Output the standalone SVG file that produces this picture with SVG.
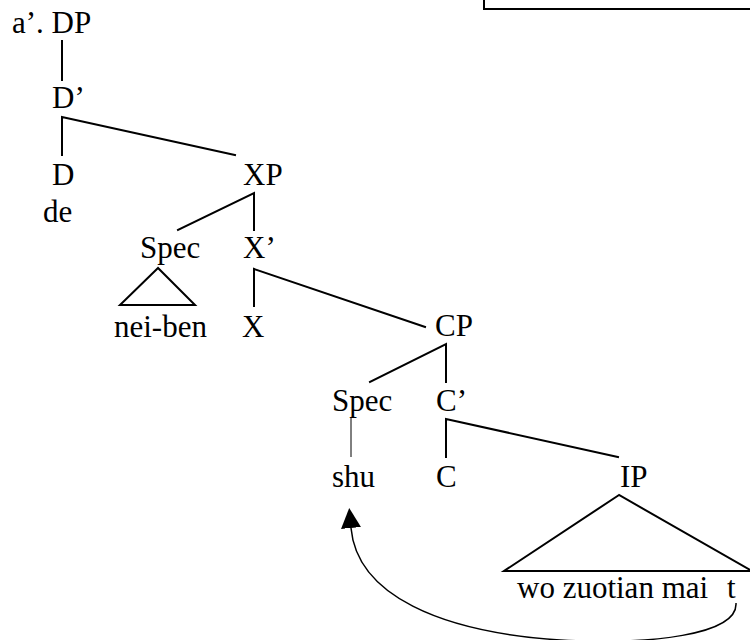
<svg xmlns="http://www.w3.org/2000/svg" width="750" height="640" viewBox="0 0 750 640">
<defs>
<style>
.e{stroke:#000;stroke-width:2;fill:none;stroke-linecap:square}
.thin{stroke:#000;stroke-width:1;fill:none}
.mv{stroke:#000;stroke-width:1.5;fill:none}
</style>
<marker id="ah" markerUnits="userSpaceOnUse" markerWidth="20" markerHeight="20" refX="0" refY="10" orient="auto" viewBox="0 0 20 20">
<path d="M0,0 L20,10 L0,20 z" fill="#000"/>
</marker>
</defs>
<rect width="750" height="640" fill="#fff"/>
<rect x="484" y="-10" width="280" height="19" fill="#fff" stroke="#000" stroke-width="2"/>
<g font-family="Liberation Serif, Times New Roman, DejaVu Serif, serif" font-size="31" fill="#000">
<g id="n-dp"><text x="12" y="33">a’. DP</text></g>
<g id="n-dbar"><text x="52" y="108">D’</text></g>
<g id="n-d"><text x="52" y="185">D</text><text x="43" y="222">de</text></g>
<g id="n-xp"><text x="243" y="185">XP</text></g>
<g id="n-spec1"><text x="140" y="258">Spec</text><text x="114" y="337">nei-ben</text></g>
<g id="n-xbar"><text x="243" y="258">X’</text></g>
<g id="n-x"><text x="242" y="337">X</text></g>
<g id="n-cp"><text x="435" y="336">CP</text></g>
<g id="n-spec2"><text x="332" y="411">Spec</text></g>
<g id="n-cbar"><text x="436" y="411">C’</text></g>
<g id="n-shu"><text x="332" y="487">shu</text></g>
<g id="n-c"><text x="436" y="487">C</text></g>
<g id="n-ip"><text x="620" y="487">IP</text><text x="517" y="598">wo zuotian mai<tspan x="727">t</tspan></text></g>
</g>
<g id="connectors">
<line class="e" x1="62" y1="41" x2="62" y2="80"/>
<path class="e" d="M62,155 L62,117 L235,155"/>
<path class="e" d="M178,230 L254,193 L254,230"/>
<path class="e" d="M158,268 L120,305 L195,305 Z"/>
<path class="e" d="M254,306 L254,269 L425,327"/>
<path class="e" d="M370,382 L446,344 L446,382"/>
<line class="thin" x1="351" y1="418" x2="351" y2="457"/>
<path class="e" d="M446,457 L446,419 L618,457"/>
<path class="e" d="M619,495 L504,571 L752,571 Z"/>
<path class="mv" d="M736,603 C738,635 650,645 560,640 C440,632 357,595 351,528" marker-end="url(#ah)"/>
</g>
</svg>
